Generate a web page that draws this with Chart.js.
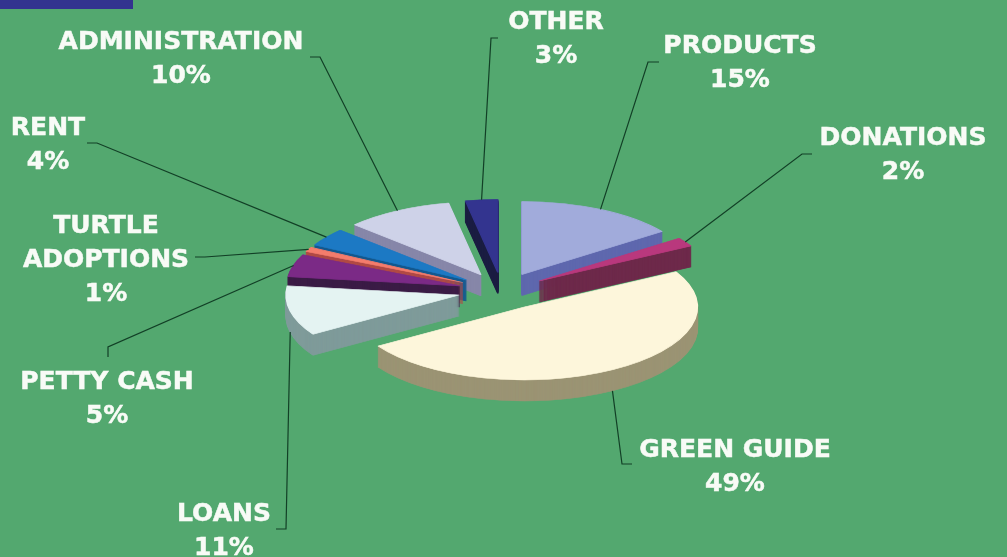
<!doctype html>
<html lang="en">

<head>
    <title>Income and expenses</title>
    <meta charset="utf-8">
    <script src="https://cdn.jsdelivr.net/npm/chart.js"></script>
    <style>
        html, body { margin: 0; padding: 0; background: #53a86f; overflow: hidden; }
        .corner { position: absolute; left: 0; top: 0; width: 133px; height: 9px; background: #33348f; }
        canvas { display: block; }
    </style>
</head>

<body>
    <div class="corner"></div>
    <canvas id="pizza" width="1007" height="557"></canvas>

    <script>
        var categorias = ['PRODUCTS', 'DONATIONS', 'GREEN GUIDE', 'LOANS', 'PETTY CASH', 'TURTLE ADOPTIONS', 'RENT', 'ADMINISTRATION', 'OTHER'];
        var valores = [15, 2, 49, 11, 5, 1, 4, 10, 3];
        var coresTopo = ['#a1abdb', '#b9387d', '#fdf6db', '#e4f3f2', '#7b2a86', '#f47c6c', '#1c79c4', '#ced2e8', '#33348f'];
        var coresLado = ['#5f68ae', '#6e2a4b', '#9b9474', '#7f9b9a', '#3b1c46', '#b14a45', '#14598f', '#8787a9', '#1b1d42'];

        // tilt of the pie and the height of its wall
        var achatar = 0.422;
        var altura = 21;
        var explosao = 44;

        // where each label sits: text centre, first line y, and the elbow of its leader
        var rotulos = {
            'PRODUCTS': { x: 740, y: 46, cotovelo: [[648, 62], [659, 62]] },
            'DONATIONS': { x: 903, y: 138, cotovelo: [[802, 154], [812, 154]] },
            'GREEN GUIDE': { x: 735, y: 450, cotovelo: [[622, 464], [632, 464]] },
            'LOANS': { x: 224, y: 514, cotovelo: [[286, 529], [276, 529]] },
            'PETTY CASH': { x: 107, y: 382, cotovelo: [[108, 347], [108, 357]] },
            'TURTLE ADOPTIONS': { x: 106, y: 226, linhas: ['TURTLE', 'ADOPTIONS'], cotovelo: [[205, 257], [195, 257]] },
            'RENT': { x: 48, y: 128, cotovelo: [[97, 143], [87, 143]] },
            'ADMINISTRATION': { x: 181, y: 42, cotovelo: [[320, 57], [310, 57]] },
            'OTHER': { x: 556, y: 22, cotovelo: [[491, 38], [498, 38]] }
        };

        function anguloMedio(arco) {
            return (arco.startAngle + arco.endAngle) / 2;
        }

        var pizza3d = {
            id: 'pizza3d',
            beforeDatasetDraw: function (chart, args) {
                var ctx = chart.ctx;
                var arcos = args.meta.data.map(function (arco, i) { return { arco: arco, i: i }; });
                var cx = args.meta.data[0].x;
                var cy = args.meta.data[0].y;

                // far slices first so the near ones cover them
                arcos.sort(function (a, b) {
                    return Math.sin(anguloMedio(a.arco)) - Math.sin(anguloMedio(b.arco));
                });

                ctx.save();
                ctx.translate(cx, cy);
                ctx.scale(1, achatar);
                ctx.translate(-cx, -cy);

                arcos.forEach(function (item) {
                    var arco = item.arco;
                    var meio = anguloMedio(arco);
                    var opcoes = arco.options;

                    ctx.save();
                    ctx.translate(Math.cos(meio) * explosao, Math.sin(meio) * explosao);

                    // wall: the same arc repeated downwards in the darker colour
                    var lado = Object.create(opcoes);
                    lado.backgroundColor = coresLado[item.i];
                    lado.borderColor = coresLado[item.i];
                    arco.options = lado;
                    for (var d = altura; d >= 1; d--) {
                        ctx.save();
                        ctx.translate(0, d / achatar);
                        arco.draw(ctx);
                        ctx.restore();
                    }
                    arco.options = opcoes;
                    arco.draw(ctx);

                    ctx.restore();
                });

                ctx.restore();
                return false;
            },
            afterDraw: function (chart) {
                var ctx = chart.ctx;
                var arcos = chart.getDatasetMeta(0).data;

                ctx.save();
                ctx.font = 'bold 25px "DejaVu Sans"';
                ctx.textAlign = 'center';
                ctx.textBaseline = 'middle';

                categorias.forEach(function (nome, i) {
                    var arco = arcos[i];
                    var meio = anguloMedio(arco);
                    var rotulo = rotulos[nome];
                    var raio = arco.outerRadius + explosao;
                    var px = arco.x + Math.cos(meio) * raio;
                    var py = arco.y + Math.sin(meio) * raio * achatar;

                    // front slices take the leader from the foot of the wall
                    if (Math.sin(meio) > 0) {
                        py += altura;
                    }

                    ctx.strokeStyle = '#123f26';
                    ctx.lineWidth = 1.2;
                    ctx.beginPath();
                    ctx.moveTo(px, py);
                    rotulo.cotovelo.forEach(function (p) { ctx.lineTo(p[0], p[1]); });
                    ctx.stroke();

                    var linhas = (rotulo.linhas || [nome]).concat(valores[i] + '%');
                    ctx.fillStyle = '#f8fbf6';
                    ctx.strokeStyle = '#f8fbf6';
                    ctx.lineWidth = 0.5;
                    linhas.forEach(function (texto, n) {
                        ctx.fillText(texto, rotulo.x, rotulo.y + n * 34);
                        ctx.strokeText(texto, rotulo.x, rotulo.y + n * 34);
                    });
                });
                ctx.restore();
            }
        };

        new Chart(document.getElementById('pizza'), {
            type: 'pie',
            data: {
                labels: categorias,
                datasets: [{
                    data: valores,
                    backgroundColor: coresTopo,
                    borderColor: coresTopo,
                    borderWidth: 1.5
                }]
            },
            options: {
                responsive: false,
                animation: false,
                radius: 173,
                layout: { padding: { top: 25, right: 3 } },
                plugins: {
                    legend: { display: false },
                    tooltip: { enabled: false }
                }
            },
            plugins: [pizza3d]
        });
    </script>
</body>

</html>
